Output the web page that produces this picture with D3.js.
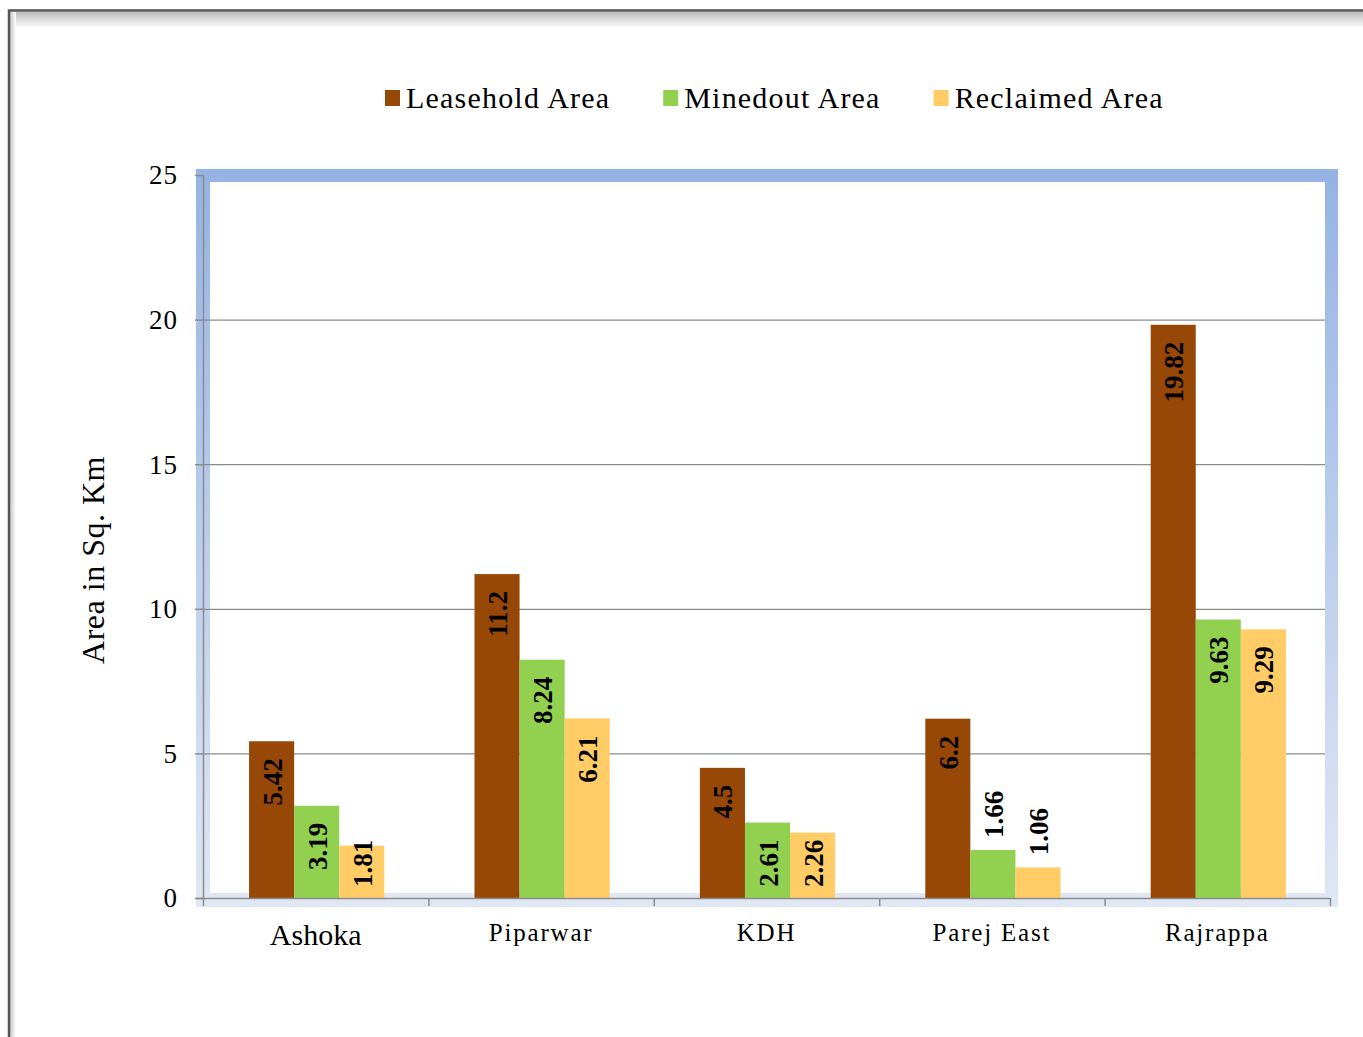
<!DOCTYPE html>
<html>
<head>
<meta charset="utf-8">
<script src="https://cdn.jsdelivr.net/npm/d3@7"></script>
<style>
  body { margin: 0; background: #fff; }
  text { font-family: "Liberation Serif", "Times New Roman", serif; fill: #000; }
</style>
</head>
<body>
<svg id="chart" width="1363" height="1037"></svg>
<script>
var mines = ['Ashoka', 'Piparwar', 'KDH', 'Parej East', 'Rajrappa'];
var seriesNames = ['Leasehold Area', 'Minedout Area', 'Reclaimed Area'];
var leasehold = [5.42, 11.2, 4.5, 6.2, 19.82];
var minedout = [3.19, 8.24, 2.61, 1.66, 9.63];
var reclaimed = [1.81, 6.21, 2.26, 1.06, 9.29];
var yTicks = [0, 5, 10, 15, 20, 25];
var colors = ['#974706', '#92d050', '#ffcc66'];

var svg = d3.select('#chart');
var defs = svg.append('defs');

// page frame with soft shadow
var sh1 = defs.append('linearGradient').attr('id', 'shTop').attr('x1', 0).attr('y1', 0).attr('x2', 0).attr('y2', 1);
sh1.append('stop').attr('offset', '0%').attr('stop-color', '#bdbdbd');
sh1.append('stop').attr('offset', '100%').attr('stop-color', '#ffffff');
var sh2 = defs.append('linearGradient').attr('id', 'shLeft').attr('x1', 0).attr('y1', 0).attr('x2', 1).attr('y2', 0);
sh2.append('stop').attr('offset', '0%').attr('stop-color', '#c8c8c8');
sh2.append('stop').attr('offset', '100%').attr('stop-color', '#ffffff');
svg.append('rect').attr('x', 10).attr('y', 12).attr('width', 1353).attr('height', 16).attr('fill', 'url(#shTop)');
svg.append('rect').attr('x', 10).attr('y', 12).attr('width', 6).attr('height', 1025).attr('fill', 'url(#shLeft)');
svg.append('path').attr('d', 'M9,1037V10.5H1363').attr('fill', 'none').attr('stroke', '#555').attr('stroke-width', 2.5);

// plot area frame
var fg = defs.append('linearGradient').attr('id', 'frameGrad').attr('x1', 0).attr('y1', 0).attr('x2', 0).attr('y2', 1);
fg.append('stop').attr('offset', '0%').attr('stop-color', '#95b3e3');
fg.append('stop').attr('offset', '100%').attr('stop-color', '#e0e7f4');
svg.append('rect').attr('x', 196).attr('y', 169).attr('width', 1142).attr('height', 738).attr('fill', 'url(#frameGrad)');
svg.append('rect').attr('x', 210).attr('y', 182).attr('width', 1115).attr('height', 711).attr('fill', '#fff');

var x0 = 203, x1 = 1330;
var x = d3.scaleBand().domain(mines).range([x0, x1]).paddingInner(0.4).paddingOuter(0.2);
var xs = d3.scaleBand().domain(seriesNames).range([0, x.bandwidth()]);
var y = d3.scaleLinear().domain([0, 25]).range([898, 175]);

// gridlines
svg.append('g').selectAll('line').data(yTicks.filter(function(d){ return d > 0 && d < 25; }))
  .enter().append('line')
  .attr('x1', x0).attr('x2', 1325)
  .attr('y1', function(d){ return y(d) + 0.5; }).attr('y2', function(d){ return y(d) + 0.5; })
  .attr('stroke', '#8c8c8c').attr('stroke-width', 1.2);

// bars
var rows = mines.map(function(m, i){
  return { mine: m, vals: [leasehold[i], minedout[i], reclaimed[i]] };
});
var groups = svg.append('g').selectAll('g').data(rows).enter().append('g')
  .attr('transform', function(d){ return 'translate(' + (x(d.mine) + 1) + ',0)'; });
groups.selectAll('rect').data(function(d){ return d.vals; }).enter().append('rect')
  .attr('x', function(d, j){ return xs(seriesNames[j]); })
  .attr('width', xs.bandwidth())
  .attr('y', function(d){ return y(d); })
  .attr('height', function(d){ return y(0) - y(d); })
  .attr('fill', function(d, j){ return colors[j]; });

// data labels (rotated, inside end, or above short bars)
groups.selectAll('text').data(function(d){ return d.vals; }).enter().append('text')
  .text(function(d){ return String(d); })
  .attr('font-weight', 'bold').attr('font-size', 27)
  .attr('dominant-baseline', 'central')
  .attr('text-anchor', 'end')
  .attr('transform', function(d, j){
    var cx = xs(seriesNames[j]) + xs.bandwidth() / 2 + 1;
    var len = this.getComputedTextLength();
    var top = y(d), h = y(0) - top, ty;
    if (h >= 49) {
      ty = top + 17;
      if (ty + len > y(0) - 11) ty = y(0) - 11 - len;
    } else {
      ty = top - 12 - len;
    }
    return 'translate(' + cx + ',' + ty + ') rotate(-90)';
  });

// y axis
var ya = svg.append('g');
ya.append('line').attr('x1', x0 + 0.5).attr('x2', x0 + 0.5).attr('y1', y(25)).attr('y2', y(0)).attr('stroke', '#8c8c8c').attr('stroke-width', 1.5);
ya.selectAll('line.tk').data(yTicks).enter().append('line').attr('class', 'tk')
  .attr('x1', 195).attr('x2', x0).attr('y1', function(d){ return y(d) + 0.5; }).attr('y2', function(d){ return y(d) + 0.5; })
  .attr('stroke', '#8c8c8c').attr('stroke-width', 1.5);
ya.selectAll('text').data(yTicks).enter().append('text')
  .attr('x', 178).attr('y', function(d){ return y(d); })
  .attr('dy', '0.35em').attr('text-anchor', 'end')
  .attr('font-size', 27).attr('letter-spacing', 1)
  .text(function(d){ return d; });

// x axis
var xa = svg.append('g');
xa.append('line').attr('x1', 196).attr('x2', x1).attr('y1', y(0) + 0.5).attr('y2', y(0) + 0.5).attr('stroke', '#8c8c8c').attr('stroke-width', 1.5);
var bounds = mines.map(function(m){ return x(m) - x.step() * 0.2; }).concat([x1]);
xa.selectAll('line.tk').data(bounds).enter().append('line').attr('class', 'tk')
  .attr('x1', function(d){ return d + 0.5; }).attr('x2', function(d){ return d + 0.5; })
  .attr('y1', y(0)).attr('y2', y(0) + 8)
  .attr('stroke', '#8c8c8c').attr('stroke-width', 1.5);
xa.selectAll('text').data(mines).enter().append('text')
  .attr('x', function(d){ return x(d) + x.bandwidth() / 2; })
  .attr('y', function(d, i){ return i === 0 ? 945 : 941; })
  .attr('text-anchor', 'middle')
  .attr('font-size', function(d, i){ return i === 0 ? 30 : 25; })
  .attr('letter-spacing', function(d, i){ return i === 0 ? 0 : 1.8; })
  .text(function(d){ return d; });

// y title
svg.append('text')
  .attr('transform', 'translate(104,560) rotate(-90)')
  .attr('text-anchor', 'middle')
  .attr('font-size', 32)
  .attr('letter-spacing', 0.5)
  .text('Area in Sq. Km');

// legend
var lx = 385;
seriesNames.forEach(function(name, j){
  svg.append('rect').attr('x', lx).attr('y', 90).attr('width', 15).attr('height', 16).attr('fill', colors[j]);
  var t = svg.append('text').attr('x', lx + 21).attr('y', 108)
    .attr('font-size', 30).attr('letter-spacing', 1.2).text(name);
  lx += 21 + t.node().getComputedTextLength() + 53;
});
</script>
</body>
</html>
